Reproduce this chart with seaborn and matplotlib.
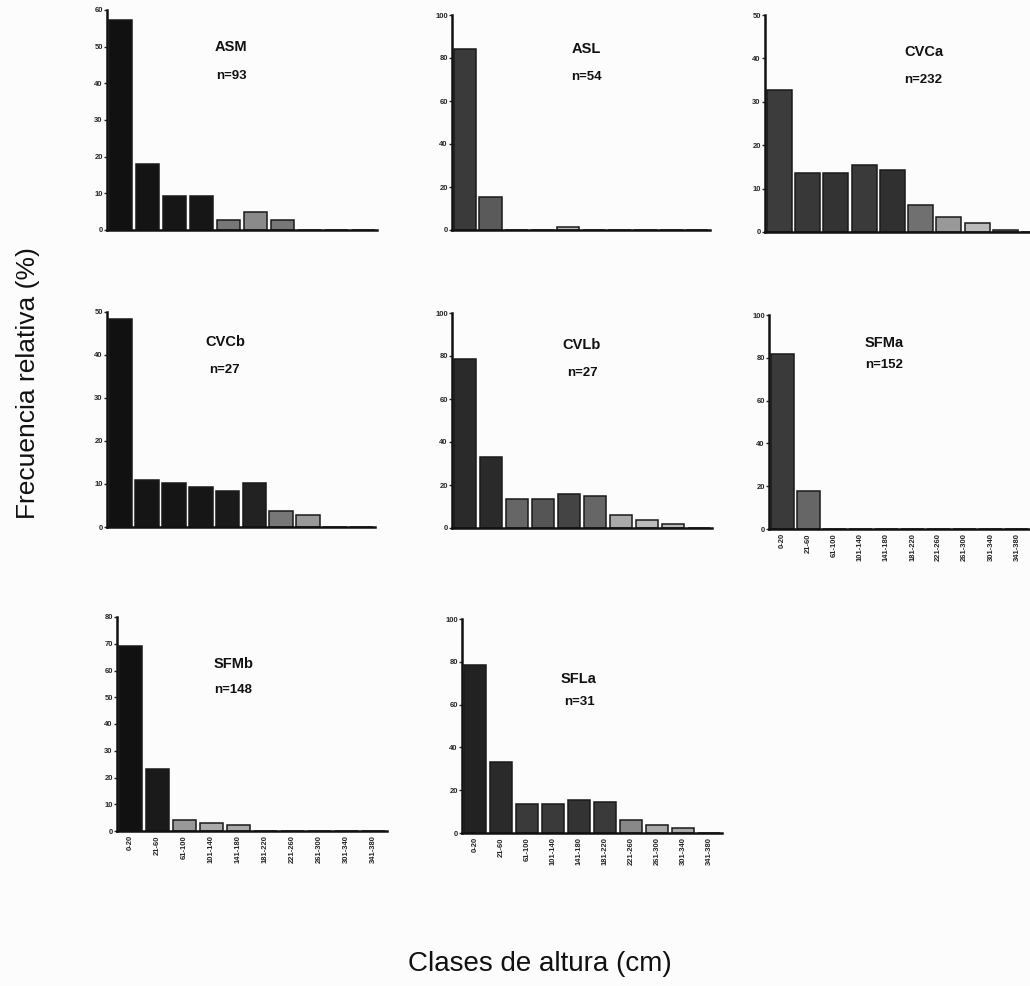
import matplotlib
matplotlib.use("Agg")
import matplotlib.pyplot as plt
import pandas as pd
import seaborn as sns

# Height classes (cm) shared by every site
height_classes = ["0-20", "21-60", "61-100", "101-140", "141-180",
                  "181-220", "221-260", "261-300", "301-340", "341-380"]

sites = ["ASM", "ASL", "CVCa", "CVCb", "CVLb", "SFMa", "SFMb", "SFLa"]
sample_sizes = [93, 54, 232, 27, 27, 152, 148, 31]

# Relative frequency (%) per height class
asm = [57.4, 18.0, 9.3, 9.3, 2.6, 4.8, 2.6, 0, 0, 0]
asl = [84.0, 15.2, 0, 0, 1.3, 0, 0, 0, 0, 0]
cvca = [32.8, 13.5, 13.5, 15.4, 14.3, 6.2, 3.5, 2.0, 0.4, 0]
cvcb = [48.4, 11.0, 10.2, 9.2, 8.3, 10.2, 3.8, 2.9, 0, 0]
cvlb = [78.6, 33.0, 13.6, 13.6, 15.8, 14.7, 6.2, 3.6, 2.0, 0]
sfma = [81.6, 17.9, 0, 0, 0, 0, 0, 0, 0, 0]
sfmb = [69.0, 23.0, 4.1, 2.9, 2.2, 0, 0, 0, 0, 0]
sfla = [78.3, 33.0, 13.6, 13.6, 15.5, 14.7, 6.2, 3.9, 2.3, 0]

frequencies = [asm, asl, cvca, cvcb, cvlb, sfma, sfmb, sfla]

# y-axis upper limit and tick step per panel
y_max = [60, 100, 50, 50, 100, 100, 80, 100]
y_step = [10, 20, 10, 10, 20, 20, 10, 20]

# Panel boxes in pixels: left, right, baseline y, top y
W, H = 1030, 986
boxes = [
    (107, 377, 230, 10),
    (452, 710, 230, 15),
    (765, 1048, 232, 15),
    (107, 375, 527, 312),
    (452, 712, 528, 313),
    (769, 1030, 529, 315),
    (117, 387, 831, 617),
    (462, 722, 833, 619),
]
# Label anchor positions (axes fraction): x, y of name, y of n
label_pos = [
    (0.46, 0.83, 0.70),
    (0.52, 0.84, 0.71),
    (0.56, 0.83, 0.70),
    (0.44, 0.86, 0.73),
    (0.50, 0.85, 0.72),
    (0.44, 0.87, 0.765),
    (0.43, 0.78, 0.66),
    (0.45, 0.72, 0.61),
]
show_classes = [False, False, False, False, False, True, True, True]

bar_greys = [
    ["#111111", "#141414", "#161616", "#161616", "#777777", "#8a8a8a", "#777777", "#cccccc", "#cccccc", "#cccccc"],
    ["#3a3a3a", "#5a5a5a", "#999999", "#999999", "#bbbbbb", "#cccccc", "#cccccc", "#cccccc", "#cccccc", "#cccccc"],
    ["#3c3c3c", "#383838", "#333333", "#3a3a3a", "#303030", "#707070", "#999999", "#bbbbbb", "#999999", "#cccccc"],
    ["#111111", "#151515", "#151515", "#161616", "#1a1a1a", "#222222", "#777777", "#999999", "#cccccc", "#cccccc"],
    ["#2a2a2a", "#2a2a2a", "#666666", "#555555", "#444444", "#666666", "#aaaaaa", "#bbbbbb", "#bbbbbb", "#cccccc"],
    ["#3a3a3a", "#666666", "#999999", "#999999", "#999999", "#999999", "#999999", "#999999", "#999999", "#999999"],
    ["#111111", "#1a1a1a", "#999999", "#aaaaaa", "#aaaaaa", "#cccccc", "#cccccc", "#cccccc", "#cccccc", "#cccccc"],
    ["#222222", "#2a2a2a", "#3a3a3a", "#3a3a3a", "#333333", "#3a3a3a", "#888888", "#aaaaaa", "#aaaaaa", "#cccccc"],
]

sns.set_theme(style="ticks")
plt.rcParams["font.family"] = ["Liberation Sans", "DejaVu Sans"]

fig = plt.figure(figsize=(W / 100, H / 100), dpi=100)
fig.patch.set_facecolor("#fcfcfc")

for i, site in enumerate(sites):
    left, right, base, top = boxes[i]
    ax = fig.add_axes([left / W, 1 - base / H, (right - left) / W, (base - top) / H])
    ax.set_facecolor("none")
    df = pd.DataFrame({"clase": height_classes, "frecuencia": frequencies[i]})
    sns.barplot(data=df, x="clase", y="frecuencia", hue="clase",
                palette=bar_greys[i], legend=False, ax=ax, width=0.88,
                edgecolor="#1a1a1a", linewidth=1.1, saturation=1)
    ax.set_xlim(-0.5, 9.5)
    ax.set_ylim(0, y_max[i])
    ax.set_yticks(range(0, y_max[i] + 1, y_step[i]))
    ax.tick_params(axis="y", labelsize=5.5, length=2, width=1, pad=1)
    for t in ax.get_yticklabels():
        t.set_fontweight("bold")
    if show_classes[i]:
        ax.tick_params(axis="x", labelsize=5.5, length=0, pad=3)
        ax.set_xticks(range(len(height_classes)))
        ax.set_xticklabels(height_classes, rotation=90, fontweight="bold")
    else:
        ax.set_xticks([])
    ax.set_xlabel("")
    ax.set_ylabel("")
    sns.despine(ax=ax)
    for side in ("left", "bottom"):
        ax.spines[side].set_linewidth(1.8)
        ax.spines[side].set_color("#111111")
    lx, ly1, ly2 = label_pos[i]
    ax.text(lx, ly1, site, transform=ax.transAxes, ha="center", va="center",
            fontsize=10.5, fontweight="bold", color="#111111")
    ax.text(lx, ly2, f"n={sample_sizes[i]}", transform=ax.transAxes,
            ha="center", va="center", fontsize=9.5, fontweight="bold",
            color="#111111")

fig.text(540 / W, 1 - 964 / H, "Clases de altura (cm)", ha="center", va="center",
         fontsize=20, color="#111111")
fig.text(28 / W, 1 - 383 / H, "Frecuencia relativa (%)", ha="center", va="center",
         rotation=90, fontsize=19, color="#111111")

fig.savefig("out.png", dpi=100, facecolor=fig.get_facecolor())
